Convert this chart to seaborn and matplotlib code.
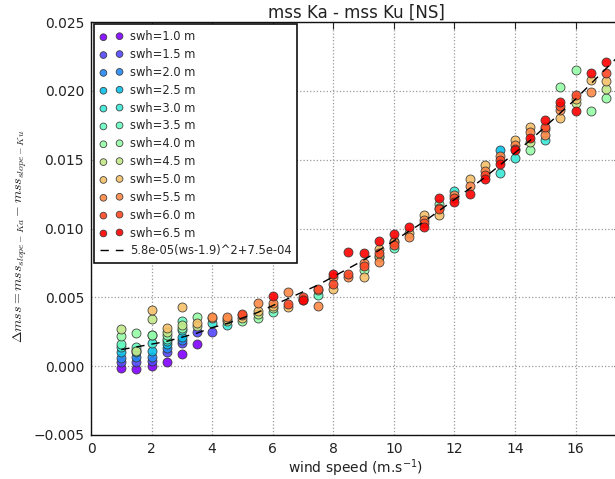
import numpy as np
import matplotlib
matplotlib.use("Agg")
import matplotlib.pyplot as plt
import seaborn as sns

# ---------------- data ----------------
swh_levels = [1.0, 1.5, 2.0, 2.5, 3.0, 3.5, 4.0, 4.5, 5.0, 5.5, 6.0, 6.5]

swh10_ws = [1.0, 1.5, 2.0, 2.5, 3.0, 3.5]
swh10_mss = [-0.0001, -0.0002, 0.0000, 0.0003, 0.0009, 0.0016]

swh15_ws = [1.0, 1.5, 2.0, 2.5, 3.0, 3.5, 4.0]
swh15_mss = [0.0003, 0.0003, 0.0004, 0.0010, 0.0017, 0.0025, 0.0025]

swh20_ws = [1.0, 1.5, 2.0, 2.5, 3.0]
swh20_mss = [0.0006, 0.0007, 0.0007, 0.0013, 0.0019]

swh25_ws = [1.0, 1.5, 2.0, 2.5, 3.0, 13.5]
swh25_mss = [0.0010, 0.0010, 0.0011, 0.0016, 0.0021, 0.0157]

swh30_ws = [1.0, 1.5, 2.0, 2.5, 3.0, 4.0, 4.5, 12.0, 13.5, 14.0, 15.0]
swh30_mss = [0.0014, 0.0012, 0.0017, 0.0018, 0.0026, 0.0031, 0.0030,
             0.0127, 0.0140, 0.0151, 0.0164]

swh35_ws = [1.0, 1.5, 2.0, 2.5, 3.0, 6.0, 7.5, 10.0]
swh35_mss = [0.0016, 0.0014, 0.0023, 0.0020, 0.0033, 0.0039, 0.0052, 0.0086]

swh40_ws = [1.0, 1.5, 2.0, 2.5, 3.0, 3.5, 5.0, 5.5, 9.0, 9.5, 11.5, 14.5,
            15.5, 16.0, 16.5, 17.0]
swh40_mss = [0.0022, 0.0024, 0.0023, 0.0023, 0.0028, 0.0036, 0.0033, 0.0035,
             0.0070, 0.0079, 0.0118, 0.0157, 0.0203, 0.0215, 0.0185, 0.0195]

swh45_ws = [1.0, 1.5, 2.0, 2.5, 3.0, 3.5, 4.5, 5.5, 6.0, 9.5, 14.5, 16.0, 17.0]
swh45_mss = [0.0027, 0.0011, 0.0034, 0.0025, 0.0030, 0.0029, 0.0033, 0.0038,
             0.0042, 0.0080, 0.0163, 0.0191, 0.0201]

swh50_ws = [2.0, 2.5, 3.0, 3.5, 4.0, 4.5, 5.0, 5.5, 6.0, 6.5, 7.0, 7.5, 8.0,
            9.0, 9.5, 10.0, 10.5, 11.0, 11.5, 12.5, 13.0, 14.0, 14.5, 15.0,
            15.5, 16.0, 16.5, 17.0]
swh50_mss = [0.0041, 0.0028, 0.0043, 0.0031, 0.0035, 0.0034, 0.0035, 0.0040,
             0.0044, 0.0043, 0.0048, 0.0055, 0.0056, 0.0065, 0.0085, 0.0091,
             0.0097, 0.0110, 0.0110, 0.0136, 0.0146, 0.0164, 0.0174, 0.0172,
             0.0180, 0.0194, 0.0208, 0.0207]

swh55_ws = [4.0, 4.5, 5.0, 5.5, 6.0, 6.5, 7.0, 7.5, 8.0, 8.5, 9.0, 9.5, 10.0,
            10.5, 11.0, 11.5, 12.0, 12.5, 13.0, 13.5, 14.0, 14.5, 15.0, 15.5,
            16.5]
swh55_mss = [0.0036, 0.0036, 0.0037, 0.0046, 0.0046, 0.0054, 0.0049, 0.0044,
             0.0065, 0.0065, 0.0075, 0.0076, 0.0090, 0.0094, 0.0106, 0.0115,
             0.0124, 0.0131, 0.0142, 0.0153, 0.0161, 0.0170, 0.0168, 0.0186,
             0.0199]

swh60_ws = [5.0, 6.5, 7.0, 7.5, 8.0, 8.5, 9.0, 9.5, 10.0, 11.0, 11.5, 12.0,
            13.0, 13.5, 14.0, 15.0, 15.5, 16.0, 17.0]
swh60_mss = [0.0038, 0.0045, 0.0050, 0.0056, 0.0060, 0.0067, 0.0073, 0.0082,
             0.0088, 0.0104, 0.0114, 0.0122, 0.0139, 0.0150, 0.0158, 0.0174,
             0.0189, 0.0197, 0.0213]

swh65_ws = [6.0, 7.0, 8.0, 8.5, 9.0, 9.5, 10.0, 10.5, 11.0, 11.5, 12.0, 12.5,
            13.0, 13.5, 14.0, 14.5, 15.0, 15.5, 16.0, 16.5, 17.0]
swh65_mss = [0.0051, 0.0048, 0.0067, 0.0083, 0.0082, 0.0091, 0.0096, 0.0101,
             0.0101, 0.0122, 0.0119, 0.0125, 0.0136, 0.0147, 0.0157, 0.0166,
             0.0179, 0.0192, 0.0185, 0.0213, 0.0221]

# dashed fit curve
fit_ws = [1.0, 1.5, 2.0, 2.5, 3.0, 3.5, 4.0, 4.5, 5.0, 5.5, 6.0, 6.5, 7.0,
          7.5, 8.0, 8.5, 9.0, 9.5, 10.0, 10.5, 11.0, 11.5, 12.0, 12.5, 13.0,
          13.5, 14.0, 14.5, 15.0, 15.5, 16.0, 16.5, 17.0, 17.5]
fit_mss = [0.0012, 0.0014, 0.0016, 0.0018, 0.0021, 0.0024, 0.0028, 0.0031,
           0.0035, 0.0039, 0.0044, 0.0049, 0.0054, 0.0059, 0.0065, 0.0071,
           0.0077, 0.0084, 0.0091, 0.0098, 0.0105, 0.0113, 0.0121, 0.0129,
           0.0137, 0.0146, 0.0155, 0.0164, 0.0174, 0.0184, 0.0194, 0.0205,
           0.0216, 0.0227]
fit_label = "5.8e-05(ws-1.9)^2+7.5e-04"

x_ticks = [0, 2, 4, 6, 8, 10, 12, 14, 16]
y_ticks = [-0.005, 0.000, 0.005, 0.010, 0.015, 0.020, 0.025]

series_ws = [swh10_ws, swh15_ws, swh20_ws, swh25_ws, swh30_ws, swh35_ws,
             swh40_ws, swh45_ws, swh50_ws, swh55_ws, swh60_ws, swh65_ws]
series_mss = [swh10_mss, swh15_mss, swh20_mss, swh25_mss, swh30_mss, swh35_mss,
              swh40_mss, swh45_mss, swh50_mss, swh55_mss, swh60_mss, swh65_mss]

# ---------------- style ----------------
sns.set_style("white")
plt.rcParams["font.family"] = ["DejaVu Sans"]

fig = plt.figure(figsize=(6.15, 4.79), dpi=100)
ax = fig.add_axes([91 / 615, 44 / 479, 530 / 615, 413 / 479])

colors = plt.cm.rainbow(np.linspace(0, 1, len(swh_levels)))

for swh, ws, mss, c in zip(swh_levels, series_ws, series_mss, colors):
    sns.scatterplot(x=ws, y=mss, color=c, s=42, edgecolor="#333333",
                    linewidth=0.6, alpha=0.9, label=f"swh={swh:.1f} m",
                    ax=ax, zorder=3)

sns.lineplot(x=fit_ws, y=fit_mss, color="k", linewidth=1.0,
             linestyle=(0, (6, 5)), label=fit_label, ax=ax, zorder=4)

ax.set_xlim(0, 17.5)
ax.set_ylim(-0.005, 0.025)
ax.set_xticks(x_ticks)
ax.set_yticks(y_ticks)
ax.set_xticklabels([str(t) for t in x_ticks])
ax.set_yticklabels([f"{t:.3f}".replace("-", "\u2212") for t in y_ticks])

ax.grid(True, linestyle=":", color="#9a9a9a", linewidth=0.9)
ax.tick_params(direction="in", top=True, right=True, length=5, width=0.8,
               labelsize=10, colors="#222222", pad=5)
for side in ["left", "bottom", "top", "right"]:
    ax.spines[side].set_color("#111111")
    ax.spines[side].set_linewidth(1.0)

ax.set_title("mss Ka - mss Ku [NS]", fontsize=12, pad=3, color="#222222")
ax.set_xlabel("wind speed (m.s$^{-1}$)", fontsize=10, color="#222222",
              labelpad=1)
ylab = ax.set_ylabel(r"$\Delta mss = mss_{slope-Ka} - mss_{slope-Ku}$",
                     fontsize=10, color="#222222")
ylab.set_math_fontfamily("cm")
ax.yaxis.set_label_coords(-0.117, 0.48)

leg = ax.legend(loc="upper left", bbox_to_anchor=(0.006, 0.994),
                borderaxespad=0, scatterpoints=2, markerscale=0.75,
                fontsize=8.3, frameon=True, fancybox=False, edgecolor="#111111",
                framealpha=1, labelspacing=0.42, handlelength=2.0,
                handletextpad=0.6, borderpad=0.5)
leg.get_frame().set_linewidth(1.2)
leg.set_zorder(10)

fig.savefig("out.png", dpi=100)
